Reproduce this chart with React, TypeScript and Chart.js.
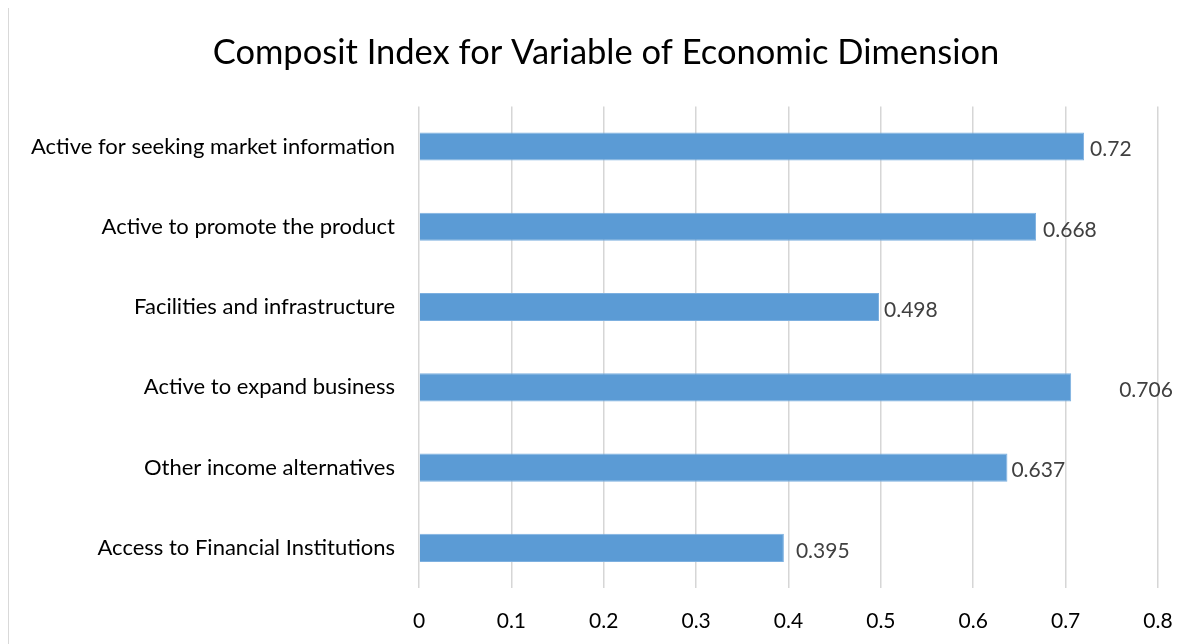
import React, { useEffect, useRef } from "react";
import { Chart, registerables } from "chart.js";

Chart.register(...registerables);

const categories = [
  "Active for seeking market information",
  "Active to promote the product",
  "Facilities and infrastructure",
  "Active to expand business",
  "Other income alternatives",
  "Access to Financial Institutions",
];
const values = [0.72, 0.668, 0.498, 0.706, 0.637, 0.395];
const valueLabels = ["0.72", "0.668", "0.498", "0.706", "0.637", "0.395"];
const xTicks = [0, 0.1, 0.2, 0.3, 0.4, 0.5, 0.6, 0.7, 0.8];

// label offsets from bar end (style)
const labelDx = [6, 7, 5, 48, 4, 12];

const FONT = "Lato";

const valueLabelPlugin = {
  id: "valueLabels",
  afterDatasetsDraw(chart: any) {
    const ctx = chart.ctx;
    const meta = chart.getDatasetMeta(0);
    ctx.save();
    ctx.font = `21px ${FONT}`;
    ctx.fillStyle = "#404040";
    ctx.textAlign = "left";
    ctx.textBaseline = "middle";
    meta.data.forEach((bar: any, i: number) => {
      ctx.fillText(valueLabels[i], bar.x + labelDx[i], bar.y + 3);
    });
    ctx.restore();
  },
};

export default function App() {
  const ref = useRef<HTMLCanvasElement | null>(null);
  useEffect(() => {
    document.body.style.overflow = "hidden";
    const chart = new Chart(ref.current!, {
      type: "bar",
      data: {
        labels: categories,
        datasets: [
          {
            data: values,
            backgroundColor: "#5B9BD5",
            borderColor: "#7DB0E0",
            borderWidth: 1,
            categoryPercentage: 0.35,
            barPercentage: 1,
          },
        ],
      },
      plugins: [valueLabelPlugin],
      options: {
        indexAxis: "y",
        animation: false,
        responsive: false,
        maintainAspectRatio: false,
        layout: { padding: { left: 0, right: 0, top: 0, bottom: 20 } },
        plugins: {
          legend: { display: false },
          tooltip: { enabled: false },
          title: {
            display: true,
            text: "Composit Index for Variable of Economic Dimension",
            color: "#000000",
            font: { family: FONT, size: 34.5, weight: "normal" },
            padding: { top: 24, bottom: 33 },
          },
        },
        scales: {
          x: {
            min: 0,
            max: 0.8,
            afterBuildTicks(axis: any) {
              axis.ticks = xTicks.map((v) => ({ value: v }));
            },
            afterFit(axis: any) {
              axis.height = 60;
            },
            grid: { color: "#d6d6d6", lineWidth: 1.5, drawTicks: false },
            border: { display: false },
            ticks: {
              padding: 21,
              color: "#000000",
              font: { family: FONT, size: 21 },
              callback: (v: any) => String(Math.round(Number(v) * 10) / 10),
            },
          },
          y: {
            afterFit(axis: any) {
              axis.width = 410;
            },
            grid: { display: false, drawTicks: false },
            border: { display: false },
            ticks: {
              padding: 24,
              color: "#000000",
              font: { family: FONT, size: 22 },
            },
          },
          yRight: {
            type: "category",
            position: "right",
            grid: { display: false, drawTicks: false },
            border: { display: false },
            ticks: { display: false },
            afterFit(axis: any) {
              axis.width = 45;
            },
          },
        },
      },
    });
    return () => chart.destroy();
  }, []);
  return (
    <div
      style={{
        marginTop: -1,
        width: 1194,
        height: 660,
        border: "1px solid #d9d9d9",
        background: "#ffffff",
      }}
    >
      <canvas ref={ref} width={1194} height={660} style={{ display: "block" }} />
    </div>
  );
}
